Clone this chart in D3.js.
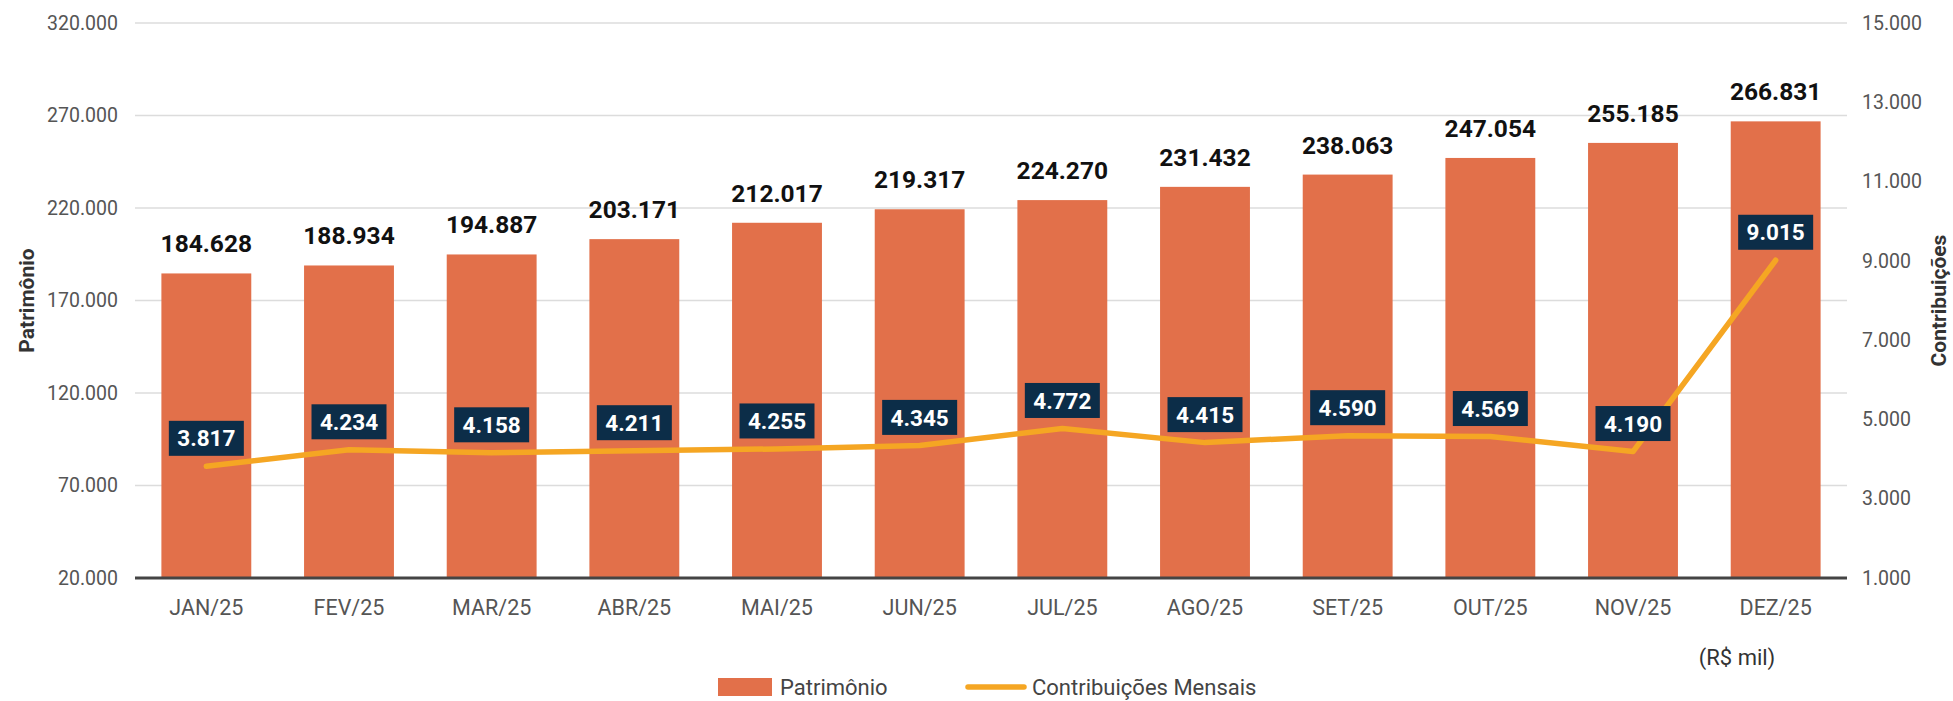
<!DOCTYPE html>
<html>
<head>
<meta charset="utf-8">
<script src="https://cdn.jsdelivr.net/npm/d3@7"></script>
<style>
  body { margin: 0; background: #fff; }
  text { font-family: Roboto, "Noto Sans", sans-serif; }
</style>
</head>
<body>
<svg id="chart" width="1953" height="701"></svg>
<script>
// data (R$ mil)
const months = ["JAN/25","FEV/25","MAR/25","ABR/25","MAI/25","JUN/25","JUL/25","AGO/25","SET/25","OUT/25","NOV/25","DEZ/25"];
const patrimonio = [184628,188934,194887,203171,212017,219317,224270,231432,238063,247054,255185,266831];
const contribuicoes = [3817,4234,4158,4211,4255,4345,4772,4415,4590,4569,4190,9015];
const leftTicks = [20000,70000,120000,170000,220000,270000,320000];
const rightTicks = [1000,3000,5000,7000,9000,11000,13000,15000];

const barColor = "#E2704A";
const lineColor = "#F5A623";
const boxColor = "#0C2D48";

const br = d3.formatLocale({decimal: ",", thousands: ".", grouping: [3], currency: ["R$ ", ""]});
const fmt = br.format(",.0f");

const svg = d3.select("#chart");
const plotLeft = 135, plotRight = 1847, plotTop = 23, plotBottom = 578;

let x = d3.scaleBand().domain(months).range([plotLeft, plotRight]).paddingInner(0.37).paddingOuter(0.185);
let yL = d3.scaleLinear().domain([20000, 320000]).range([plotBottom, plotTop]);
let yR = d3.scaleLinear().domain([1000, 15000]).range([plotBottom, plotTop]);

// grid
svg.append("g").selectAll("line")
    .data(leftTicks.slice(1)).enter()
    .append("line")
    .attr("x1", plotLeft).attr("x2", plotRight)
    .attr("y1", d => yL(d)).attr("y2", d => yL(d))
    .attr("stroke", "#dcdcdc").attr("stroke-width", 1.5);

// left axis
let axL = svg.append("g").attr("transform", "translate(" + plotLeft + ",0)")
    .call(d3.axisLeft(yL).tickValues(leftTicks).tickFormat(fmt).tickSize(0).tickPadding(17));
axL.select(".domain").remove();
axL.selectAll("text").attr("font-size", 19.5).attr("fill", "#555").attr("font-family", "Roboto");

// right axis
let axR = svg.append("g").attr("transform", "translate(" + plotRight + ",0)")
    .call(d3.axisRight(yR).tickValues(rightTicks).tickFormat(fmt).tickSize(0).tickPadding(15));
axR.select(".domain").remove();
axR.selectAll("text").attr("font-size", 19.5).attr("fill", "#555").attr("font-family", "Roboto");

// bars
svg.append("g").selectAll("rect")
    .data(patrimonio).enter()
    .append("rect")
    .attr("x", (d, i) => x(months[i]))
    .attr("width", x.bandwidth())
    .attr("y", d => yL(d))
    .attr("height", d => yL(20000) - yL(d))
    .attr("fill", barColor);

svg.append("g").selectAll("text")
    .data(patrimonio).enter()
    .append("text")
    .attr("x", (d, i) => x(months[i]) + x.bandwidth() / 2)
    .attr("y", d => yL(d) - 21)
    .attr("text-anchor", "middle")
    .attr("font-size", 24.5).attr("font-weight", "bold").attr("fill", "#111")
    .text(d => fmt(d));

// baseline
svg.append("line")
    .attr("x1", plotLeft).attr("x2", plotRight)
    .attr("y1", plotBottom).attr("y2", plotBottom)
    .attr("stroke", "#444").attr("stroke-width", 3);

// x labels
let axB = svg.append("g").attr("transform", "translate(0," + plotBottom + ")")
    .call(d3.axisBottom(x).tickSize(0).tickPadding(22));
axB.select(".domain").remove();
axB.selectAll("text").attr("font-size", 21.5).attr("fill", "#555").attr("font-family", "Roboto");

// line
let line = d3.line()
    .x((d, i) => x(months[i]) + x.bandwidth() / 2)
    .y(d => yR(d));
svg.append("path")
    .datum(contribuicoes)
    .attr("d", line)
    .attr("fill", "none")
    .attr("stroke", lineColor)
    .attr("stroke-width", 5.5)
    .attr("stroke-linejoin", "round")
    .attr("stroke-linecap", "round");

// line labels
let lbl = svg.append("g").selectAll("g")
    .data(contribuicoes).enter()
    .append("g")
    .attr("transform", (d, i) => "translate(" + (x(months[i]) + x.bandwidth() / 2) + "," + (yR(d) - 28) + ")");
lbl.append("rect")
    .attr("x", -37.5).attr("y", -17.5)
    .attr("width", 75).attr("height", 35)
    .attr("fill", boxColor);
lbl.append("text")
    .attr("text-anchor", "middle")
    .attr("dy", "0.36em")
    .attr("font-size", 22.5).attr("font-weight", "bold").attr("fill", "#fff")
    .text(d => fmt(d));

// axis titles
svg.append("text")
    .attr("transform", "translate(34," + (plotTop + plotBottom) / 2 + ") rotate(-90)")
    .attr("text-anchor", "middle")
    .attr("font-size", 21).attr("font-weight", "bold").attr("fill", "#333")
    .text("Patrimônio");
svg.append("text")
    .attr("transform", "translate(1946," + (plotTop + plotBottom) / 2 + ") rotate(-90)")
    .attr("text-anchor", "middle")
    .attr("font-size", 21).attr("font-weight", "bold").attr("fill", "#333")
    .text("Contribuições");

svg.append("text")
    .attr("x", 1737).attr("y", 665)
    .attr("text-anchor", "middle")
    .attr("font-size", 22).attr("fill", "#333")
    .text("(R$ mil)");

// legend
let leg = svg.append("g");
leg.append("rect").attr("x", 718).attr("y", 678).attr("width", 54).attr("height", 18).attr("fill", barColor);
leg.append("text").attr("x", 780).attr("y", 695).attr("font-size", 22).attr("fill", "#444").text("Patrimônio");
leg.append("line").attr("x1", 968).attr("x2", 1024).attr("y1", 687).attr("y2", 687)
    .attr("stroke", lineColor).attr("stroke-width", 5.5).attr("stroke-linecap", "round");
leg.append("text").attr("x", 1032).attr("y", 695).attr("font-size", 22).attr("fill", "#444").text("Contribuições Mensais");
</script>
</body>
</html>
